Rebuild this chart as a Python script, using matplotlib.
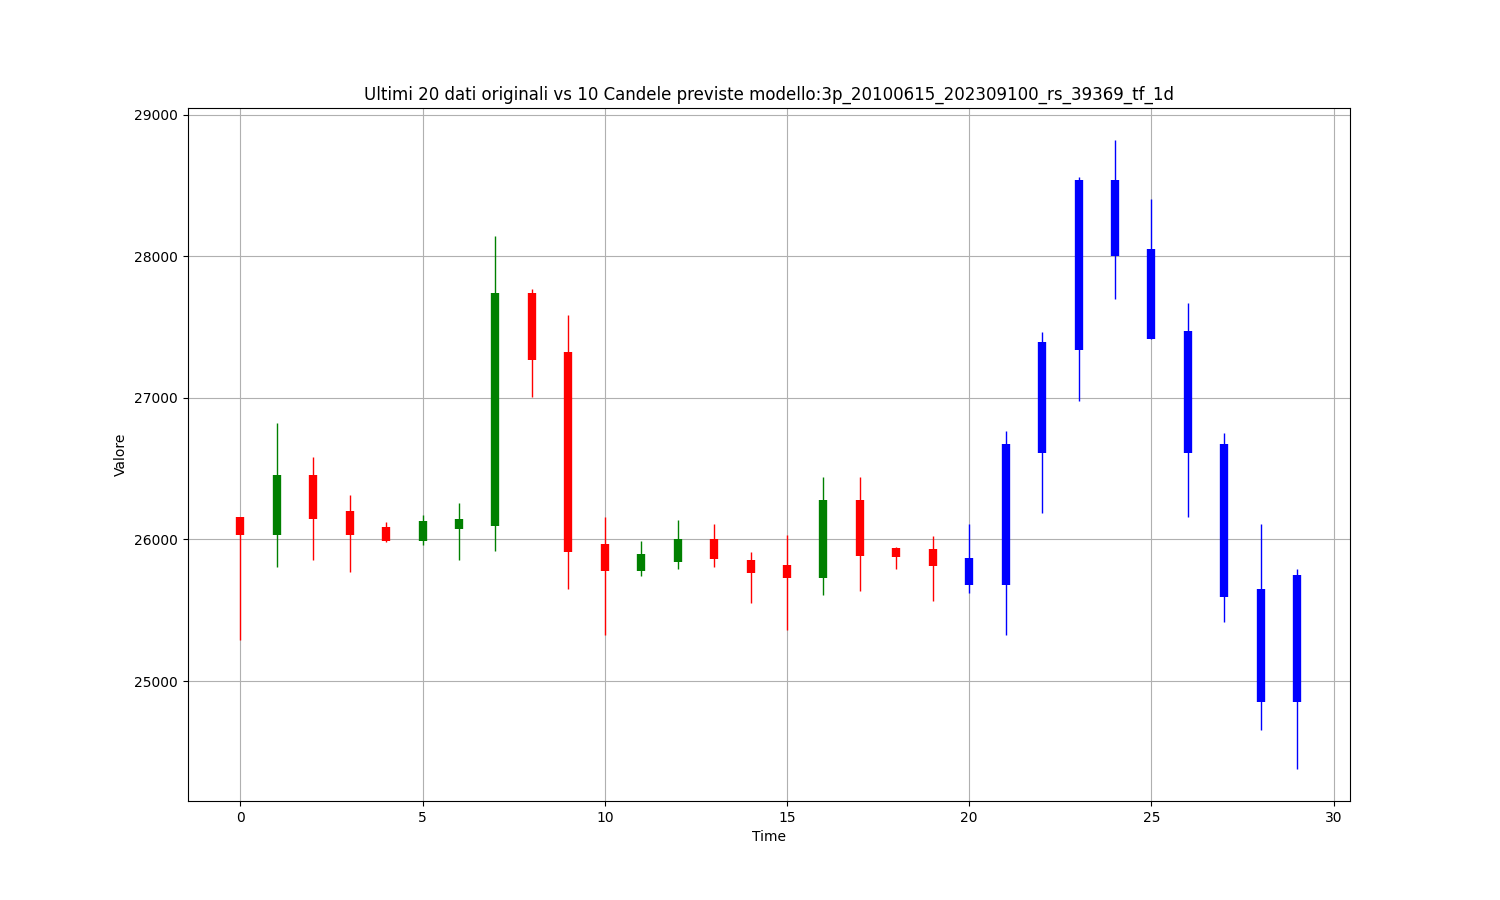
import numpy as np
import matplotlib
matplotlib.use('Agg')
import matplotlib.pyplot as plt

TITLE = 'Ultimi 20 dati originali vs 10 Candele previste modello:3p_20100615_202309100_rs_39369_tf_1d'

# ultimi 20 dati originali
orig_open = [26157, 26030, 26458, 26204, 26087, 25988, 26073, 26094, 27742, 27324,
             25965, 25777, 25840, 26000, 25852, 25817, 25728, 26282, 25937, 25930]
orig_close = [26030, 26458, 26148, 26030, 25988, 26129, 26148, 27742, 27270, 25911,
              25777, 25894, 26000, 25861, 25763, 25728, 26282, 25883, 25876, 25812]
orig_high = [26157, 26819, 26580, 26312, 26122, 26176, 26256, 28143, 27768, 27585,
             26157, 25986, 26141, 26106, 25915, 26035, 26444, 26444, 25946, 26028]
orig_low = [25291, 25805, 25854, 25770, 25981, 25960, 25854, 25918, 27009, 25650,
            25326, 25744, 25791, 25805, 25551, 25361, 25608, 25636, 25791, 25566]

# 10 candele previste
pred_open = [25682, 25682, 26614, 27338, 28537, 28050, 27474, 26672, 25651, 24855]
pred_close = [25868, 26672, 27396, 28537, 28000, 27416, 26614, 25595, 24855, 25751]
pred_high = [26110, 26764, 27468, 28557, 28824, 28401, 27672, 26750, 26110, 25793]
pred_low = [25623, 25328, 26185, 26976, 27699, 27416, 26158, 25420, 24657, 24376]

fig, ax = plt.subplots(figsize=(15, 9))

n_orig = len(orig_open)
for i in range(n_orig):
    o, c = orig_open[i], orig_close[i]
    color = 'green' if c >= o else 'red'
    ax.vlines(i, orig_low[i], orig_high[i], color=color, linewidth=1)
    ax.vlines(i, o, c, color=color, linewidth=6)

for j in range(len(pred_open)):
    i = n_orig + j
    ax.vlines(i, pred_low[j], pred_high[j], color='blue', linewidth=1)
    ax.vlines(i, pred_open[j], pred_close[j], color='blue', linewidth=6)

ax.set_title(TITLE)
ax.set_xlabel('Time')
ax.set_ylabel('Valore')
ax.grid(True)

plt.savefig('out.png', dpi=100)
